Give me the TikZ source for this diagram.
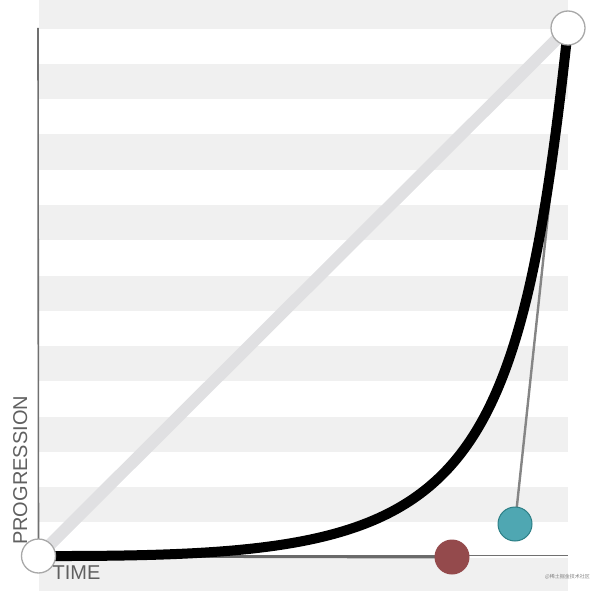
\documentclass[tikz,border=0pt]{standalone}
\usepackage{fontspec}
\setmainfont{Liberation Sans}
\newfontfamily\cjkfont{Noto Sans CJK SC}
\definecolor{stripe}{HTML}{F0F0F0}
\definecolor{diag}{HTML}{E0E0E2}
\definecolor{axisgray}{HTML}{707070}
\definecolor{handlegray}{HTML}{6A6A6A}
\definecolor{labelgray}{HTML}{606060}
\definecolor{cpred}{HTML}{944A4C}
\definecolor{cpteal}{HTML}{4FA7B2}
\definecolor{cptealdark}{HTML}{2C7F86}
\definecolor{ringgray}{HTML}{A8A8A8}
\tikzset{
  endpt/.style={circle, fill=white, draw=ringgray, line width=1.3pt, minimum size=34pt, inner sep=0pt},
  redpt/.style={circle, fill=cpred, draw=none, minimum size=35pt, inner sep=0pt},
  tealpt/.style={circle, fill=cpteal, draw=cptealdark, line width=1pt, minimum size=34pt, inner sep=0pt},
  axisline/.style={draw=axisgray, line width=1.6pt},
  handle/.style={draw=handlegray, line width=3pt},
  curve/.style={draw=black, line width=10pt},
  lbl/.style={text=labelgray, font=\fontsize{20}{20}\selectfont, inner sep=0pt}
}
\begin{document}
\begin{tikzpicture}[x=1pt, y=-1pt]
\useasboundingbox (0,0) rectangle (600,591);
% stripes
\foreach \k in {0,...,8} {
  \pgfmathsetmacro{\ya}{max(0,-6.5+70.5*\k)}
  \pgfmathsetmacro{\yb}{min(591,28.75+70.5*\k)}
  \fill[stripe] (39,\ya) rectangle (568,\yb);
}
\coordinate (p0) at (38.5,556);
\coordinate (p1) at (452,557);
\coordinate (p2) at (515,524);
\coordinate (p3) at (568,28);
\coordinate (ytop) at (38,28);
\coordinate (xend) at (568,555.5);
% diagonal
\draw[diag, line width=12pt] (p0) -- (p3);
% axes
\draw[axisline] (p0) -- (ytop);
\draw[axisline] (38,555.5) -- (xend);
% handles
\draw[handle] (p0) -- (p1);
\draw[draw=axisgray!85, line width=2.4pt] (p2) -- (p3);
% curve
\draw[curve] (p0) .. controls (p1) and (p2) .. (p3);
% points
\node[endpt] (start) at (p0) {};
\node[endpt] (end) at (p3) {};
\node[redpt] (cp1) at (p1) {};
\node[tealpt] (cp2) at (p2) {};
% labels
\node[lbl, rotate=90, anchor=south west] (prog) at (27.5,545) {PROGRESSION};
\node[lbl, anchor=north west] (time) at (52.5,565.5) {TIME};
\node[text=gray, font=\cjkfont\fontsize{5}{5}\selectfont, inner sep=0pt, anchor=west] (wm) at (545,577) {@稀土掘金技术社区};
\end{tikzpicture}
\end{document}
